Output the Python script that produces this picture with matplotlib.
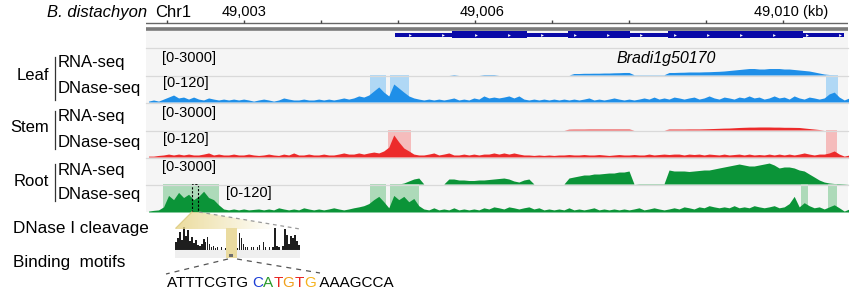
import numpy as np
import matplotlib
matplotlib.use("Agg")
import matplotlib.pyplot as plt
from matplotlib.patches import Rectangle, Polygon

plt.rcParams['font.family'] = ['Liberation Sans', 'DejaVu Sans']

W, H = 853, 299

# ---------------- data ----------------
view_kb = (49001.727, 49010.844)
tick_kb = [49002, 49003, 49004, 49005, 49006, 49007, 49008, 49009, 49010]
label_kb = [49003.0, 49006.09, 49010.11]
label_txt = ['49,003', '49,006', '49,010 (kb)']

gene_name = 'Bradi1g50170'
gene_span = (49004.961, 49010.792)
exons = [(49005.701, 49006.675), (49007.208, 49008.013), (49008.506, 49010.260)]

bin_start_kb = 49001.76
bin_kb = 0.065

leaf_rna = [0]*61 + [55, 0, 0, 0, 0, 0, 55, 55, 55] + [0]*15 + \
    [165, 165, 190, 190, 200, 200, 220, 220, 245, 255, 280, 280,
     30, 30, 30, 30, 30, 30, 30,
     280, 280, 300, 310, 335, 335, 335,
     355, 365, 390, 410, 445, 500, 555,
     610, 665, 720, 720, 665, 665, 720, 720, 720, 665, 665, 610,
     555, 500, 445, 335, 220, 110, 55, 0, 0, 0, 0]

stem_rna = [0]*84 + \
    [90, 100, 100, 100, 110, 110, 110, 110, 110, 110, 110, 110, 110,
     0, 0, 0, 0, 0, 0, 0,
     110, 110, 110, 110, 120, 120, 120,
     135, 150, 170, 190, 210, 220, 250,
     280, 300, 320, 320, 335, 335, 335, 320, 320, 300, 300, 290,
     280, 220, 165, 110, 55, 0, 0, 0, 0, 0, 0]

root_rna = [0]*51 + [110, 335, 555, 665] + [0, 0, 0, 0, 0] + \
    [555, 555, 445, 445, 390, 390, 445, 445, 500, 555, 610, 665, 555, 335, 220, 445, 555] + \
    [0]*7 + \
    [665, 780, 890, 1000, 1000, 1110, 1110, 1165, 1220, 1220, 1330, 1330, 1445] + \
    [0, 33, 33, 33, 33, 33, 33] + \
    [1555, 1445, 1445, 1445, 1390, 1445, 1500, 1555, 1555, 1665, 1780, 1890,
     2000, 2110, 2220, 2110, 2000, 2000, 2110, 2220, 2330, 2110, 1780, 1890,
     1890, 1780, 1555, 1445, 1110, 780, 445, 220, 110, 55, 55, 33, 0]

leaf_dnase = [4, 9, 4, 13, 22, 31, 18, 22, 13, 22, 13, 9, 18, 13, 9, 13, 9, 13, 9, 13,
              9, 4, 9, 13, 9, 4, 9, 18, 13, 9, 9, 13, 9, 9, 13, 9, 13, 9, 13, 18,
              13, 18, 27, 22, 31, 49, 67, 44, 27, 80, 62, 44, 27, 18, 13, 9, 13, 9, 13, 9,
              13, 18, 9, 13, 9, 18, 13, 27, 18, 22, 18, 22, 27, 18, 27, 13, 9, 13, 9, 13,
              9, 13, 9, 13, 9, 13, 9, 13, 18, 9, 13, 9, 13, 18, 13, 9, 13, 9, 13, 18,
              13, 22, 13, 18, 13, 22, 18, 13, 18, 22, 13, 18, 27, 18, 13, 22, 18, 13, 22, 18,
              27, 18, 22, 13, 18, 27, 18, 22, 13, 27, 18, 13, 22, 18, 13, 18, 36, 44, 22, 9,
              18]

stem_dnase = [4, 4, 7, 9, 13, 9, 13, 9, 13, 9, 9, 13, 18, 9, 13, 9, 9, 13, 9, 9,
              13, 9, 7, 9, 13, 9, 7, 13, 9, 18, 9, 9, 13, 9, 9, 13, 9, 9, 13, 18,
              13, 13, 18, 13, 18, 22, 18, 27, 44, 98, 67, 40, 27, 13, 9, 9, 13, 18, 9, 13,
              18, 9, 9, 13, 9, 13, 9, 13, 13, 18, 13, 18, 13, 18, 13, 9, 9, 7, 9, 7,
              9, 7, 9, 9, 11, 9, 9, 11, 9, 9, 11, 9, 7, 9, 11, 9, 9, 11, 9, 9,
              13, 9, 11, 13, 11, 13, 13, 9, 13, 11, 13, 9, 13, 11, 9, 13, 9, 11, 13, 9,
              13, 9, 11, 9, 13, 9, 13, 9, 13, 9, 13, 18, 13, 9, 13, 13, 18, 27, 13, 4,
              9]

root_dnase = [4, 7, 9, 22, 71, 53, 84, 62, 76, 53, 67, 89, 62, 53, 31, 13, 9, 13, 9, 13,
              9, 11, 13, 9, 13, 9, 18, 13, 9, 13, 9, 18, 13, 9, 13, 9, 13, 18, 13, 9,
              13, 18, 22, 27, 36, 53, 67, 44, 18, 71, 53, 67, 44, 58, 27, 13, 9, 18, 9, 13,
              9, 18, 9, 13, 9, 13, 9, 18, 13, 22, 18, 13, 22, 18, 13, 18, 22, 13, 18, 9,
              13, 9, 13, 9, 18, 9, 13, 9, 13, 18, 9, 13, 9, 13, 9, 13, 9, 13, 18, 9,
              13, 18, 13, 9, 13, 18, 13, 22, 18, 13, 22, 18, 27, 22, 18, 22, 18, 27, 18, 22,
              18, 27, 22, 18, 22, 27, 18, 22, 36, 67, 22, 40, 27, 18, 22, 13, 22, 31, 18, 4,
              13]

leaf_hl = [(49004.636, 49004.844), (49004.896, 49005.143), (49010.558, 49010.714)]
stem_hl = [(49004.870, 49005.169), (49010.558, 49010.701)]
root_hl = [(49001.948, 49002.675), (49004.636, 49004.844), (49004.896, 49005.273),
           (49010.234, 49010.325), (49010.584, 49010.701)]
dashed_box_kb = (49002.325, 49002.403)

cleavage = [8, 12, 18, 10, 23, 14, 20, 9, 13, 7, 10, 5, 4, 6, 11, 8, 13, 6, 3, 4,
            2, 3, 0, 3, 0, 2, 0, 3, 5, 2, 0, 2, 17, 12, 6, 3, 3, 0, 3, 3,
            0, 3, 5, 0, 8, 3, 0, 3, 0, 3, 22, 4, 3, 0, 4, 21, 15, 6, 14, 12,
            15, 9, 5]

tissues = ['Leaf', 'Stem', 'Root']
colors = {'Leaf': '#1f8fe8', 'Stem': '#ec2b2b', 'Root': '#0b9438'}
hl_colors = {'Leaf': '#a9d5f5', 'Stem': '#f6b6b6', 'Root': '#a6d8b3'}
rna = {'Leaf': leaf_rna, 'Stem': stem_rna, 'Root': root_rna}
dnase = {'Leaf': leaf_dnase, 'Stem': stem_dnase, 'Root': root_dnase}
hls = {'Leaf': leaf_hl, 'Stem': stem_hl, 'Root': root_hl}

seq_parts = [('ATTTCGTG ', 'black'), ('C', '#1d3fd6'), ('A', '#2a9a2a'), ('T', '#e8231f'),
             ('G', '#f0a01c'), ('T', '#e8231f'), ('G', '#f5b21c'), (' AAAGCCA', 'black')]

# ---------------- layout helpers ----------------
fig = plt.figure(figsize=(W / 100, H / 100), dpi=100)
X0, X1 = 146, 848


def px_axes(x0, y0, x1, y1, z=1):
    ax = fig.add_axes([x0 / W, 1 - y1 / H, (x1 - x0) / W, (y1 - y0) / H], zorder=z)
    return ax


# overlay for text / decorations in pixel coordinates
ov = fig.add_axes([0, 0, 1, 1], zorder=10)
ov.set_xlim(0, W)
ov.set_ylim(H, 0)
ov.axis('off')
ov.patch.set_alpha(0)

# background of track area
bg = fig.add_axes([X0 / W, 1 - 212 / H, (X1 - X0) / W, (212 - 30) / H], zorder=0)
bg.set_facecolor('#f5f5f5')
bg.set_xticks([]); bg.set_yticks([])
for s in bg.spines.values():
    s.set_visible(False)

# ---------------- ruler ----------------
ax_r = px_axes(X0, 14, X1, 31, z=2)
ax_r.set_xlim(*view_kb)
ax_r.set_ylim(31, 14)
ax_r.axis('off')
ax_r.axhline(23.3, color='#666666', lw=1.0)
ax_r.axhline(29.0, color='#7a7a7a', lw=2.6)
ax_r.vlines(tick_kb, 20.0, 23.3, color='#444444', lw=1.0)
for k, t in zip(label_kb, label_txt):
    ov.text(167 + (k - 49002) * 77, 12, t, ha='center', va='center', fontsize=10.5)
ov.text(147, 12.5, 'B. distachyon', ha='right', va='center', fontsize=12, style='italic')
ov.text(155, 12.5, 'Chr1', ha='left', va='center', fontsize=12)

# ---------------- gene ----------------
ax_g = px_axes(X0, 30, X1, 47, z=2)
ax_g.set_xlim(*view_kb)
ax_g.set_ylim(0, 1)
ax_g.axis('off')
yc = 1 - (34.7 - 30) / 17
ax_g.add_patch(Rectangle((gene_span[0], yc - 0.12), gene_span[1] - gene_span[0], 0.24,
                         color='#0a0aa8', lw=0))
for a, b in exons:
    ax_g.add_patch(Rectangle((a, yc - 0.2), b - a, 0.4, color='#0a0aa8', lw=0))
arrows = np.arange(gene_span[0] + 0.19, gene_span[1], 0.43)
ax_g.plot(arrows, [yc] * len(arrows), ls='none', marker='>', ms=2.0, color='white', mec='none')
ov.text(666, 59, gene_name, ha='center', va='center', fontsize=11.5, style='italic')

# ---------------- signal tracks ----------------
track_rows = {'Leaf': (48, 75, 102), 'Stem': (103, 130, 157), 'Root': (157, 184, 212)}
n = len(leaf_dnase)
xb = bin_start_kb + bin_kb * np.arange(n)
for t in tissues:
    y0, ym, y1 = track_rows[t]
    c = colors[t]
    axr = px_axes(X0, y0, X1, ym, z=2)
    axd = px_axes(X0, ym, X1, y1, z=2)
    for ax, vals, top in ((axr, rna[t], 3000), (axd, dnase[t], 120)):
        ax.set_xlim(*view_kb)
        ax.set_ylim(0, top)
        ax.axis('off')
        ax.fill_between(xb, 0, vals, color=c, lw=0, zorder=3)
    for a, b in hls[t]:
        axd.axvspan(a, b, color=hl_colors[t], lw=0, zorder=1, alpha=0.9)
    if t == 'Root':
        axd.add_patch(Rectangle((dashed_box_kb[0], 0), dashed_box_kb[1] - dashed_box_kb[0], 118,
                                fill=False, ec='black', lw=0.8, ls=(0, (2, 1.5)), zorder=5))

# separators
for y in (47.5, 75.5, 102.5, 130.5, 157.5, 184.5):
    ov.plot([X0, X1], [y, y], color='#d9d9d9', lw=0.9)

# range labels
for (x, y, s) in [(162, 58, '[0-3000]'), (163, 83, '[0-120]'),
                  (162, 113, '[0-3000]'), (163, 139, '[0-120]'),
                  (162, 167, '[0-3000]'), (226, 193, '[0-120]')]:
    ov.text(x, y, s, ha='left', va='center', fontsize=10.5)

# left labels
for t, (yt, yr, yd, b0, b1) in zip(tissues, [(76, 62, 88, 57, 100), (128, 117, 142, 111, 149),
                                               (182, 170, 195, 164, 201)]):
    ov.text(49, yt, t, ha='right', va='center', fontsize=12)
    ov.plot([55, 55], [b0, b1], color='#333333', lw=0.9)
    ov.text(58, yr, 'RNA-seq', ha='left', va='center', fontsize=12)
    ov.text(58, yd, 'DNase-seq', ha='left', va='center', fontsize=12)

# ---------------- cleavage panel ----------------
ov.text(13, 229, 'DNase I cleavage', ha='left', va='center', fontsize=12.3)
ov.text(13, 262, 'Binding  motifs', ha='left', va='center', fontsize=12.3)

# zoom wedge
wedge = Polygon([(192, 212), (199, 212), (300, 229), (175, 229)], closed=True,
                facecolor='none', edgecolor='none')
ov.add_patch(wedge)
grad = np.zeros((10, 128, 4))
grad[..., 0] = 0.91; grad[..., 1] = 0.84; grad[..., 2] = 0.55
grad[..., 3] = np.clip(np.linspace(0.85, -0.2, 128), 0, 1)[None, :]
im = ov.imshow(grad, extent=(175, 300, 229, 212), aspect='auto', zorder=1)
im.set_clip_path(wedge)
ov.set_xlim(0, W); ov.set_ylim(H, 0)
ov.plot([199, 300], [212, 229], color='#9a9a9a', lw=0.9, ls=(0, (3, 3)))
ov.plot([192, 176], [212, 228], color='#e0cf8a', lw=0.9)

ov.add_patch(Rectangle((175, 250), 125, 8, color='#efefef', lw=0, zorder=1))
ov.add_patch(Rectangle((226, 228), 11, 30, color='#eadba0', lw=0, zorder=1))
ov.add_patch(Rectangle((229.5, 253.5), 3.5, 3.5, color='#6e6e6e', lw=0, zorder=2))

ax_c = px_axes(175, 226, 300, 250, z=5)
ax_c.set_xlim(-0.5, len(cleavage) - 0.5)
ax_c.set_ylim(0, 24)
ax_c.axis('off')
ax_c.bar(np.arange(len(cleavage)), cleavage, width=0.75, color='#1e1e1e', lw=0)
ax_c.axhline(0.3, color='#777777', lw=0.8)

ov.plot([228, 166], [259, 274], color='#555555', lw=0.9, ls=(0, (4, 4)))
ov.plot([237, 320], [259, 273], color='#555555', lw=0.9, ls=(0, (4, 4)))

# sequence
fig.canvas.draw()
r = fig.canvas.get_renderer()
x = 167.0
for s, c in seq_parts:
    tx = ov.text(x, 283, s, ha='left', va='center', fontsize=11, color=c)
    bb = tx.get_window_extent(renderer=r)
    x += bb.width * (W / fig.bbox.width)

fig.savefig('out.png', dpi=100)
